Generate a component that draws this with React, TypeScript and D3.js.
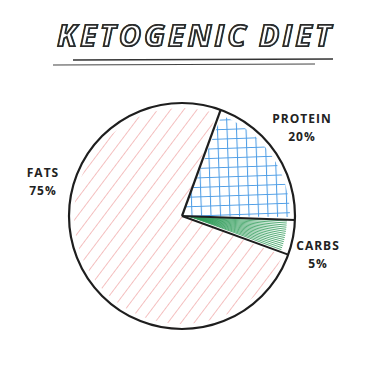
import React from "react";
import * as d3 from "d3";

const categories = ["PROTEIN", "CARBS", "FATS"];
const values = [20, 5, 75];
const valueLabels = ["20%", "5%", "75%"];
const title = "KETOGENIC DIET";

const W = 369;
const H = 380;
const cx = 182;
const cy = 216;
const radius = 113;
const startRad = (20 * Math.PI) / 180;

export default function App() {
  const pie = d3
    .pie<number>()
    .sort(null)
    .startAngle(startRad)
    .endAngle(startRad + 2 * Math.PI);
  const arcs = pie(values);
  const arc = d3.arc<d3.PieArcDatum<number>>().innerRadius(0).outerRadius(radius);
  // hatching stays a little inside the outline, like a pen fill
  const fillArc = d3
    .arc<d3.PieArcDatum<number>>()
    .innerRadius(0)
    .outerRadius(radius - 5)
    .padAngle(0.05)
    .padRadius(radius);

  const fills = ["url(#grid)", "none", "url(#diag)"];

  // radial green strokes in the carbs slice
  const carbs = arcs[1];
  const fan = d3.range(carbs.startAngle + 0.012, carbs.endAngle - 0.005, 0.02);

  const labelPos: [number, number][] = [
    [302, 119],
    [318, 246],
    [43, 173],
  ];

  const titleProps = {
    x: 195,
    y: 47,
    textAnchor: "middle" as const,
    fontFamily: "'Open Sans', sans-serif",
    fontWeight: 800,
    fontStyle: "italic",
    fontSize: 32,
    letterSpacing: 1.6,
  };

  return (
    <svg width={W} height={H} style={{ position: "absolute", left: 0, top: 0, background: "#fff" }}>
      <defs>
        <pattern id="diag" width="10.5" height="10.5" patternUnits="userSpaceOnUse" patternTransform="rotate(37)">
          <line x1="0" y1="0" x2="0" y2="10.5" stroke="#ee9797" strokeWidth="1.2" />
        </pattern>
        <pattern id="grid" width="9.5" height="9.5" patternUnits="userSpaceOnUse" patternTransform="rotate(-2)">
          <path d="M0.5 0V9.5M0 0.5H9.5" stroke="#4f9ee6" strokeWidth="1.1" fill="none" />
        </pattern>
        <clipPath id="carbsClip">
          <path d={arc(carbs) ?? ""} transform={`translate(${cx},${cy})`} />
        </clipPath>
        <clipPath id="titleClip">
          <text {...titleProps}>{title}</text>
        </clipPath>
      </defs>

      <text {...titleProps} fill="#2b2b2b">
        {title}
      </text>
      <g clipPath="url(#titleClip)">
        <text {...titleProps} fill="#fff" stroke="#2b2b2b" strokeWidth={3.4}>
          {title}
        </text>
      </g>
      <line x1={73} y1={60} x2={333} y2={59} stroke="#333" strokeWidth={1.3} />
      <line x1={53} y1={65} x2={315} y2={64} stroke="#444" strokeWidth={1.1} />

      <g transform={`translate(${cx},${cy})`}>
        {arcs.map((d, i) => (
          <path key={i} d={fillArc(d) ?? ""} fill={fills[i]} stroke="none" />
        ))}
      </g>
      <g clipPath="url(#carbsClip)">
        {fan.map((a, i) => (
          <line
            key={i}
            x1={cx + Math.sin(carbs.startAngle + 0.02) * 8}
            y1={cy - Math.cos(carbs.startAngle + 0.02) * 8}
            x2={cx + Math.sin(a) * (radius - 8)}
            y2={cy - Math.cos(a) * (radius - 8)}
            stroke="#2f9a58"
            strokeWidth={0.8}
          />
        ))}
      </g>
      <g transform={`translate(${cx},${cy})`}>
        {arcs.slice(0, 2).map((d, i) => (
          <line
            key={i}
            x1={0}
            y1={0}
            x2={Math.sin(d.endAngle) * radius}
            y2={-Math.cos(d.endAngle) * radius}
            stroke="#1e1e1e"
            strokeWidth={2}
          />
        ))}
        <line
          x1={0}
          y1={0}
          x2={Math.sin(arcs[0].startAngle) * radius}
          y2={-Math.cos(arcs[0].startAngle) * radius}
          stroke="#1e1e1e"
          strokeWidth={2.2}
        />
        <circle r={radius} fill="none" stroke="#1e1e1e" strokeWidth={2.2} />
      </g>

      {categories.map((c, i) => (
        <g key={c} fontFamily="'Open Sans', sans-serif" fontWeight={700} fontSize={12} fill="#222" textAnchor="middle" letterSpacing={1}>
          <text x={labelPos[i][0]} y={labelPos[i][1] + 4}>{c}</text>
          <text x={labelPos[i][0]} y={labelPos[i][1] + 22}>{valueLabels[i]}</text>
        </g>
      ))}
    </svg>
  );
}
